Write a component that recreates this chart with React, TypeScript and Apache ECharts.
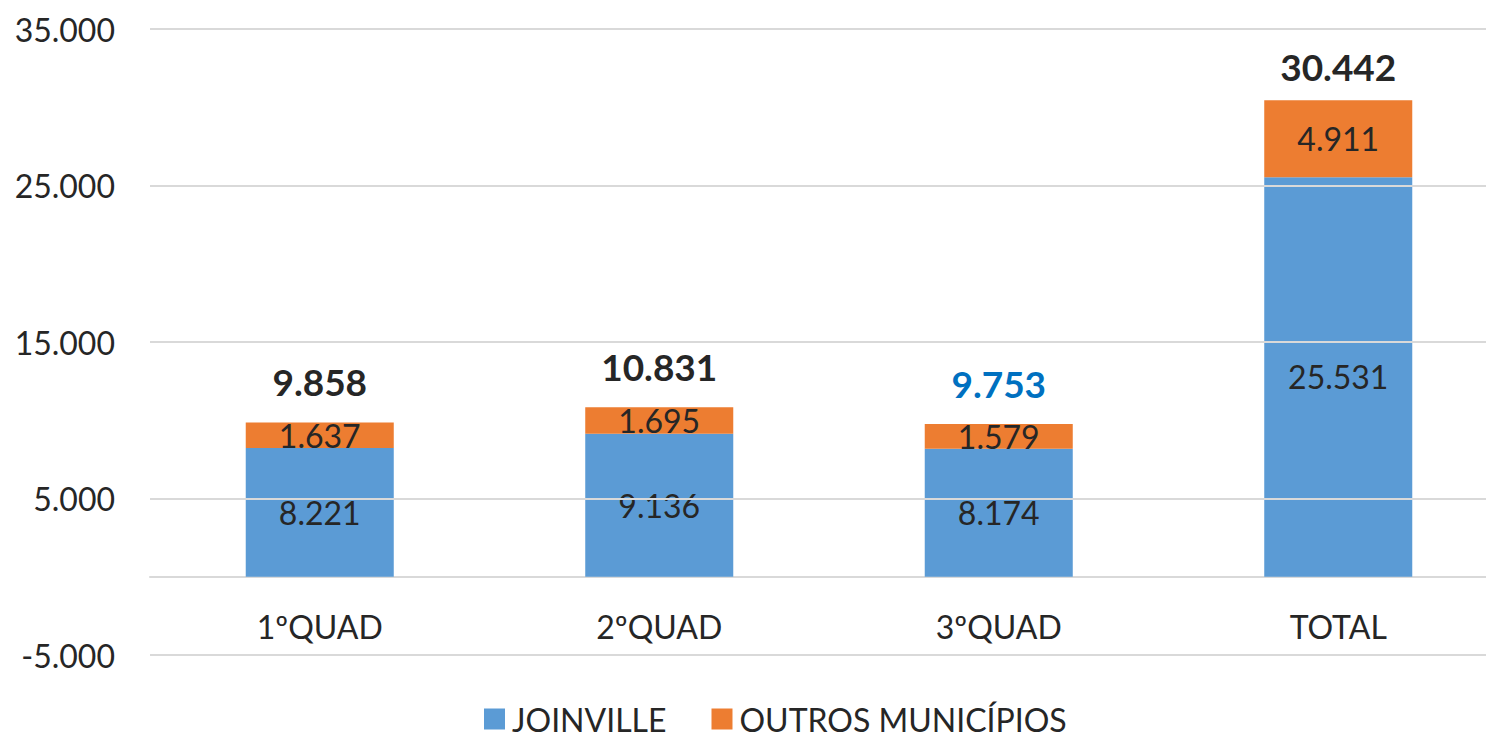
import React, { useEffect, useRef } from "react";
import * as echarts from "echarts";

const categories = ["1ºQUAD", "2ºQUAD", "3ºQUAD", "TOTAL"];
const joinville = [8221, 9136, 8174, 25531];
const outros = [1637, 1695, 1579, 4911];
const totals = [9858, 10831, 9753, 30442];
const totalColors = ["#262626", "#262626", "#0070C0", "#262626"];
const gridValues = [-5000, 5000, 15000, 25000, 35000];

const FONT = "Lato, 'Open Sans', sans-serif";

function fmt(v: number): string {
  const neg = v < 0;
  let s = String(Math.abs(Math.round(v)));
  let out = "";
  while (s.length > 3) {
    out = "." + s.slice(-3) + out;
    s = s.slice(0, -3);
  }
  out = s + out;
  return (neg ? "-" : "") + out;
}

export default function App() {
  const ref = useRef<HTMLDivElement>(null);
  useEffect(() => {
    document.body.style.margin = "0";
    if (!ref.current) return;
    const chart = echarts.init(ref.current, undefined, { renderer: "svg" });
    chart.setOption({
      animation: false,
      backgroundColor: "#ffffff",
      grid: { left: 150, right: -22, top: 29, bottom: 79, outerBoundsMode: "none", containLabel: false },
      legend: {
        left: 479,
        top: 698,
        icon: "rect",
        itemWidth: 21,
        itemHeight: 21,
        itemGap: 45,
        data: ["JOINVILLE", "OUTROS MUNICÍPIOS"],
        textStyle: { fontFamily: FONT, fontSize: 32, lineHeight: 32, color: "#262626", padding: [0, 0, 0, 2] },
      },
      xAxis: {
        type: "category",
        data: categories,
        offset: -78,
        axisTick: { show: false },
        axisLine: { show: true, onZero: false, lineStyle: { color: "#d9d9d9", width: 2 } },
        axisLabel: { fontFamily: FONT, fontSize: 32, color: "#262626", margin: 33 },
      },
      yAxis: {
        type: "value",
        min: -5000,
        max: 35000,
        interval: 5000,
        splitLine: { show: false },
        axisLine: { show: false },
        axisTick: { show: false },
        axisLabel: {
          fontFamily: FONT,
          fontSize: 32,
          color: "#262626",
          margin: 35,
          formatter: (v: number) => ((v + 5000) % 10000 === 0 ? fmt(v) : ""),
        },
      },
      series: [
        {
          name: "JOINVILLE",
          type: "bar",
          stack: "a",
          barWidth: "43.6%",
          z: 3,
          data: joinville,
          itemStyle: { color: "#5B9BD5" },
          label: {
            show: true,
            position: "inside",
            fontFamily: FONT,
            fontSize: 32,
            color: "#262626",
            formatter: (p: any) => fmt(p.value),
          },
        },
        {
          name: "OUTROS MUNICÍPIOS",
          type: "bar",
          stack: "a",
          z: 3,
          data: outros,
          itemStyle: { color: "#ED7D31" },
          label: {
            show: true,
            position: "inside",
            fontFamily: FONT,
            fontSize: 32,
            color: "#262626",
            formatter: (p: any) => fmt(p.value),
          },
        },
        {
          name: "totals",
          type: "line",
          z: 1,
          data: totals.map((v, i) => ({
            value: v,
            label: { color: totalColors[i], distance: i === 3 ? 15 : 22 },
          })),
          symbol: "circle",
          symbolSize: 1,
          showSymbol: true,
          itemStyle: { color: "rgba(0,0,0,0)" },
          lineStyle: { opacity: 0 },
          silent: true,
          label: {
            show: true,
            position: "top",
            fontFamily: FONT,
            fontSize: 37,
            fontWeight: "bold",
            formatter: (p: any) => fmt(p.value),
          },
          markLine: {
            silent: true,
            symbol: "none",
            label: { show: false },
            lineStyle: { color: "#d9d9d9", width: 2, type: "solid" },
            data: gridValues.map((v) => ({ yAxis: v })),
          },
        },
      ],
    });
    return () => chart.dispose();
  }, []);
  return <div ref={ref} style={{ width: 1486, height: 734 }} />;
}
